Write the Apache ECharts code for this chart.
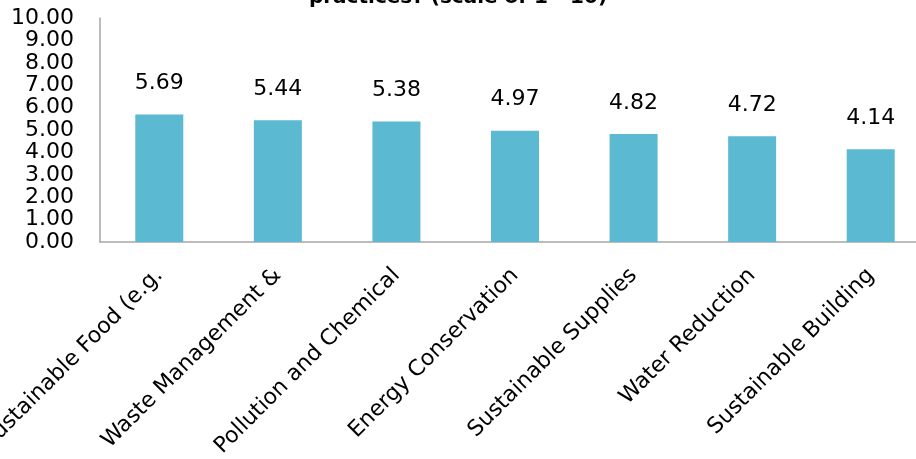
<!DOCTYPE html>
<html><head><meta charset="utf-8">
<script src="https://cdn.jsdelivr.net/npm/echarts@6/dist/echarts.min.js"></script>
<style>html,body{margin:0;padding:0;background:#fff;}#c{width:916px;height:459px;}</style>
</head><body><div id="c"></div>
<script>
const categories = ["Sustainable Food (e.g.", "Waste Management &", "Pollution and Chemical", "Energy Conservation", "Sustainable Supplies", "Water Reduction", "Sustainable Building"];
const values = [5.69, 5.44, 5.38, 4.97, 4.82, 4.72, 4.14];
const titleText = "practices? (scale of 1 - 10)";
const FONT = "DejaVu Sans";
const chart = echarts.init(document.getElementById('c'));
chart.setOption({
  animation: false,
  backgroundColor: '#ffffff',
  title: { text: titleText, left: 'center', top: -17, textStyle: { fontFamily: FONT, fontSize: 20, fontWeight: 'bold', color: '#000' } },
  grid: { left: 100, right: -14, top: 18, bottom: 217, containLabel: false, outerBoundsMode: 'none' },
  xAxis: {
    type: 'category', data: categories,
    axisLine: { lineStyle: { color: '#A6A6A6', width: 1.5 } },
    axisTick: { show: false },
    axisLabel: { rotate: 45, interval: 0, margin: 30, fontFamily: FONT, fontSize: 22, color: '#000' }
  },
  yAxis: {
    type: 'value', min: 0, max: 10, interval: 1,
    axisLine: { show: true, lineStyle: { color: '#A6A6A6', width: 1.5 } },
    axisTick: { show: false },
    splitLine: { show: false },
    axisLabel: { formatter: v => v.toFixed(2), margin: 26, fontFamily: FONT, fontSize: 22, color: '#000', lineHeight: 20 }
  },
  series: [{
    type: 'bar', data: values, barWidth: 48,
    itemStyle: { color: '#5BB9D2' },
    label: { show: true, position: 'top', distance: 20, formatter: p => p.value.toFixed(2), fontFamily: FONT, fontSize: 22, color: '#000' }
  }]
});
</script></body></html>
